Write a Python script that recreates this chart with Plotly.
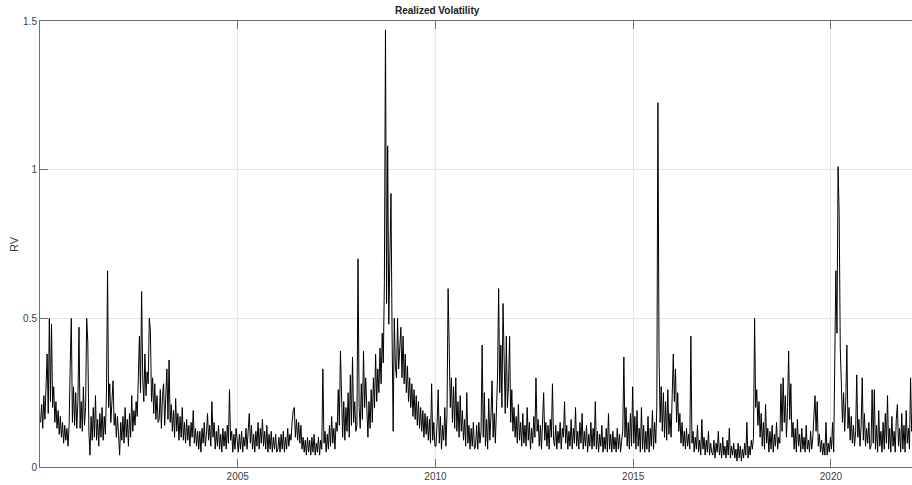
import plotly.graph_objects as go

# Realized volatility (about 36 samples per year)
SAMPLES_PER_YEAR = 36
rv_2000 = [.15,.21,.13,.24,.16,.28,.38,.18,.5,.22,.48,.2,.27,.15,.22,.13,.19,.11,.17,.1,.15,.08,.14,.09,.13,.07,.14,.34,.5,.15,.27,.14,.25,.13,.22,.47]
rv_2001 = [.13,.22,.12,.27,.14,.2,.5,.42,.12,.04,.17,.09,.2,.1,.24,.09,.16,.07,.18,.1,.2,.09,.17,.11,.25,.66,.2,.28,.15,.22,.29,.14,.18,.1,.17,.11]
rv_2002 = [.04,.15,.09,.17,.08,.2,.1,.16,.07,.18,.1,.24,.12,.19,.14,.22,.17,.3,.44,.25,.59,.3,.22,.38,.24,.32,.28,.5,.46,.22,.3,.18,.28,.16,.24,.15]
rv_2003 = [.16,.26,.13,.24,.28,.14,.22,.33,.16,.36,.15,.21,.12,.19,.1,.23,.12,.18,.09,.17,.1,.2,.09,.15,.08,.16,.09,.14,.07,.15,.1,.19,.08,.13,.07,.12]
rv_2004 = [.06,.12,.05,.13,.08,.15,.07,.11,.18,.09,.14,.07,.22,.1,.15,.06,.12,.07,.14,.06,.11,.05,.13,.07,.12,.06,.14,.08,.26,.09,.12,.05,.11,.06,.13,.07]
rv_2005 = [.05,.11,.06,.12,.05,.1,.07,.13,.06,.12,.18,.08,.14,.06,.11,.05,.12,.07,.15,.06,.13,.08,.16,.07,.12,.06,.14,.05,.11,.06,.12,.05,.1,.06,.11,.05]
rv_2006 = [.06,.1,.05,.11,.06,.12,.05,.1,.06,.13,.07,.11,.09,.15,.19,.2,.1,.16,.09,.15,.08,.14,.06,.1,.05,.09,.04,.1,.05,.09,.04,.1,.05,.11,.04,.08]
rv_2007 = [.05,.1,.04,.09,.06,.33,.08,.12,.05,.11,.06,.14,.07,.17,.08,.13,.06,.15,.12,.26,.14,.39,.18,.1,.22,.09,.2,.12,.25,.1,.31,.14,.37,.15,.22,.12]
rv_2008 = [.14,.7,.2,.13,.28,.16,.39,.2,.3,.15,.1,.22,.13,.26,.15,.3,.2,.38,.22,.33,.25,.4,.28,.45,.35,.62,1.47,.55,1.08,.48,.75,.92,.45,.12,.5,.34]
rv_2009 = [.3,.5,.33,.42,.47,.3,.44,.28,.38,.25,.34,.22,.3,.2,.28,.17,.26,.16,.24,.14,.22,.13,.2,.12,.19,.1,.18,.11,.17,.09,.16,.08,.28,.09,.15,.07]
rv_2010 = [.07,.15,.26,.08,.17,.06,.14,.09,.2,.07,.18,.6,.42,.2,.3,.15,.27,.13,.3,.12,.22,.1,.24,.12,.19,.09,.16,.07,.25,.08,.14,.06,.13,.07,.15,.06]
rv_2011 = [.07,.14,.06,.15,.08,.12,.41,.1,.25,.07,.16,.06,.23,.09,.17,.29,.1,.18,.08,.2,.3,.6,.25,.41,.2,.55,.3,.18,.44,.2,.28,.44,.15,.26,.12,.2]
rv_2012 = [.1,.17,.08,.21,.09,.15,.07,.18,.08,.14,.07,.2,.09,.15,.06,.13,.08,.17,.1,.3,.12,.16,.07,.14,.06,.2,.25,.09,.15,.07,.14,.06,.16,.1,.28,.09]
rv_2013 = [.07,.14,.06,.12,.08,.15,.06,.13,.1,.22,.08,.14,.06,.12,.07,.16,.06,.13,.08,.2,.07,.12,.06,.15,.08,.18,.06,.12,.07,.14,.05,.11,.07,.15,.06,.13]
rv_2014 = [.07,.22,.06,.12,.05,.11,.07,.14,.05,.1,.06,.13,.05,.18,.06,.11,.05,.12,.06,.1,.05,.13,.06,.11,.05,.09,.12,.37,.1,.2,.07,.15,.06,.18,.07,.27]
rv_2015 = [.08,.17,.06,.19,.07,.13,.05,.2,.06,.14,.05,.12,.06,.17,.05,.13,.07,.19,.06,.15,.08,.2,1.225,.38,.15,.27,.12,.25,.1,.22,.09,.26,.11,.18,.1,.24]
rv_2016 = [.38,.22,.33,.15,.25,.12,.18,.08,.15,.07,.12,.06,.13,.07,.11,.06,.44,.08,.12,.05,.1,.06,.14,.05,.09,.04,.16,.06,.1,.04,.09,.05,.12,.04,.08,.05]
rv_2017 = [.04,.09,.03,.08,.05,.12,.04,.08,.03,.1,.04,.07,.03,.09,.04,.13,.03,.07,.04,.08,.03,.06,.02,.08,.03,.07,.02,.06,.03,.08,.04,.15,.03,.07,.04,.09]
rv_2018 = [.06,.1,.5,.2,.26,.14,.22,.1,.18,.07,.15,.06,.21,.08,.13,.05,.12,.06,.14,.05,.11,.07,.15,.06,.1,.08,.28,.12,.3,.15,.24,.1,.2,.39,.16,.28]
rv_2019 = [.1,.15,.06,.13,.05,.16,.07,.11,.05,.13,.06,.1,.05,.14,.06,.09,.05,.12,.06,.1,.18,.24,.12,.22,.07,.11,.05,.09,.04,.08,.04,.15,.04,.08,.05,.1]
rv_2020 = [.06,.15,.05,.3,.66,.45,1.01,.85,.4,.28,.15,.25,.12,.22,.41,.13,.2,.09,.17,.08,.14,.07,.12,.31,.1,.16,.07,.14,.3,.09,.18,.07,.13,.08,.15,.06]
rv_2021 = [.07,.26,.08,.26,.06,.14,.05,.19,.07,.12,.05,.15,.06,.18,.08,.24,.06,.13,.05,.17,.07,.12,.05,.16,.21,.07,.13,.05,.18,.06,.14,.05,.19,.08,.13,.06]
rv_2022 = [.3,.12,.2]

series_by_year = [
    (2000, rv_2000), (2001, rv_2001), (2002, rv_2002), (2003, rv_2003),
    (2004, rv_2004), (2005, rv_2005), (2006, rv_2006), (2007, rv_2007),
    (2008, rv_2008), (2009, rv_2009), (2010, rv_2010), (2011, rv_2011),
    (2012, rv_2012), (2013, rv_2013), (2014, rv_2014), (2015, rv_2015),
    (2016, rv_2016), (2017, rv_2017), (2018, rv_2018), (2019, rv_2019),
    (2020, rv_2020), (2021, rv_2021), (2022, rv_2022),
]

x_ticks = [2005, 2010, 2015, 2020]
x_tick_labels = ["2005", "2010", "2015", "2020"]
y_ticks = [0, 0.5, 1, 1.5]
y_tick_labels = ["0", "0.5", "1", "1.5"]

t, rv = [], []
for year, vals in series_by_year:
    for i, v in enumerate(vals):
        t.append(year + (i + 0.5) / SAMPLES_PER_YEAR)
        rv.append(v)

AXIS = "#6f6f6f"
TEXT = "#404040"
GRID = "#e6e6e6"
FONT = "Liberation Sans"

fig = go.Figure(go.Scatter(x=t, y=rv, mode="lines",
                           line=dict(color="black", width=1),
                           hoverinfo="skip", showlegend=False))

fig.update_layout(
    width=912, height=485,
    margin=dict(l=40, r=0, t=21, b=18),
    paper_bgcolor="white", plot_bgcolor="white",
    font=dict(family=FONT, size=10, color=TEXT),
    xaxis=dict(range=[2000, 2022.05], tickvals=x_ticks, ticktext=x_tick_labels,
               ticks="inside", ticklen=8, tickcolor=AXIS, tickwidth=1,
               showline=True, linecolor=AXIS, linewidth=1, mirror="ticks",
               showgrid=True, gridcolor=GRID, gridwidth=1, zeroline=False,
               tickfont=dict(family=FONT, size=10, color=TEXT)),
    yaxis=dict(range=[0, 1.5], tickvals=y_ticks, ticktext=y_tick_labels,
               ticks="inside", ticklen=8, tickcolor=AXIS, tickwidth=1,
               showline=True, linecolor=AXIS, linewidth=1, mirror=False,
               showgrid=True, gridcolor=GRID, gridwidth=1, zeroline=False,
               tickfont=dict(family=FONT, size=10, color=TEXT)),
    annotations=[
        dict(text="<b>Realized Volatility</b>", xref="paper", yref="paper",
             x=(437 - 40) / 872, y=1 + 10 / 446, xanchor="center", yanchor="middle",
             showarrow=False, font=dict(family=FONT, size=10, color="#202020")),
        dict(text="RV", xref="paper", yref="paper",
             x=(14 - 40) / 872, y=0.5, xanchor="center", yanchor="middle",
             textangle=-90, showarrow=False, font=dict(family=FONT, size=11, color=TEXT)),
    ],
)

fig.write_html("out.html", config={"displayModeBar": False})
